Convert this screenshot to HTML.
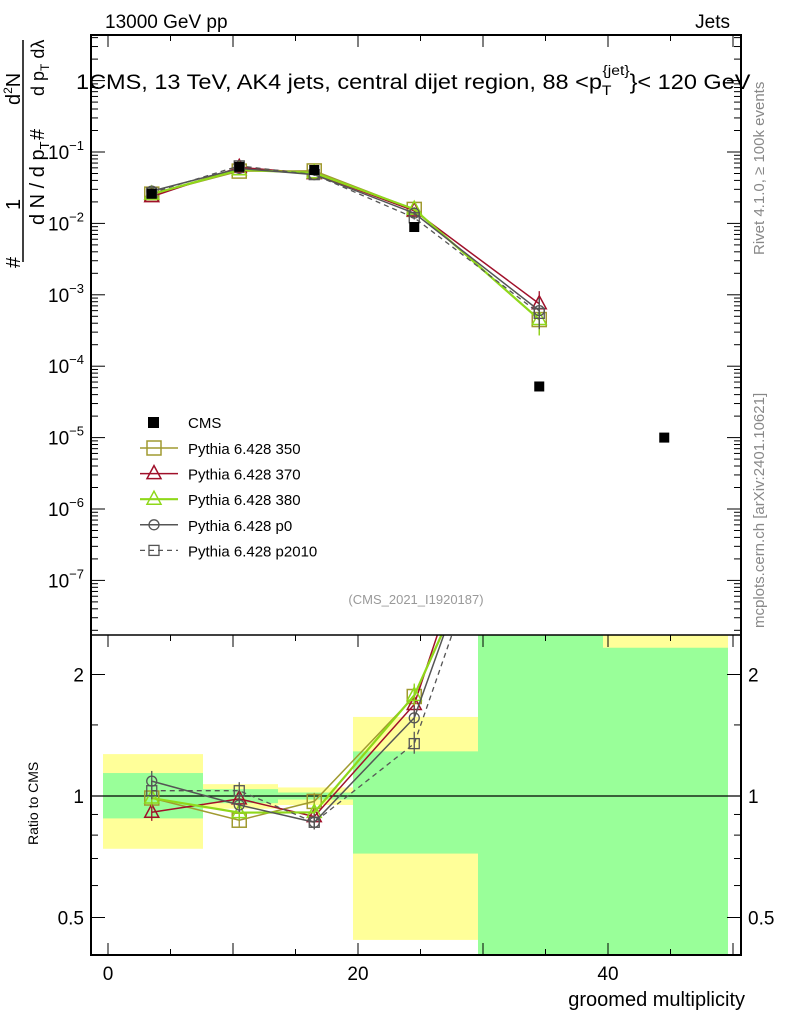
<!DOCTYPE html>
<html><head><meta charset="utf-8"><style>
body{margin:0;background:#fff}
svg{font-family:"Liberation Sans",sans-serif}
</style></head><body>
<svg id="c" width="786" height="1024" viewBox="0 0 786 1024">
<text x="105" y="28" font-size="19">13000 GeV pp</text>
<text x="730" y="28" font-size="19" text-anchor="end">Jets</text>
<text transform="translate(76,89) scale(1.12,1)" font-size="21">1CMS, 13 TeV, AK4 jets, central dijet region, 88 &lt;p<tspan font-size="14" dy="6">T</tspan><tspan font-size="14" dy="-20" dx="-8">{jet}</tspan><tspan dy="14">}&lt; 120 GeV</tspan></text>
<text x="416" y="604" font-size="13" fill="#999" text-anchor="middle">(CMS_2021_I1920187)</text>
<text transform="translate(764,255) rotate(-90)" font-size="15" fill="#888">Rivet 4.1.0, ≥ 100k events</text>
<text transform="translate(764,628) rotate(-90)" font-size="15" fill="#888">mcplots.cern.ch [arXiv:2401.10621]</text>
<g font-size="20">
<text transform="translate(20,105) rotate(-90)">d<tspan font-size="12" dy="-8">2</tspan><tspan dy="8">N</tspan></text>
<text transform="translate(20,210) rotate(-90)">1</text>
<text transform="translate(20,268) rotate(-90)">#</text>
<line x1="23" y1="40" x2="23" y2="262" stroke="#000" stroke-width="1.5"/>
<text transform="translate(44,96) rotate(-90)" font-size="18">d p<tspan font-size="12" dy="5">T</tspan><tspan dy="-5"> dλ</tspan></text>
<text transform="translate(44,140) rotate(-90)">#</text>
<text transform="translate(44,225) rotate(-90)">d N / d p<tspan font-size="13" dy="5">T</tspan></text>
</g>
<text transform="translate(38,845) rotate(-90)" font-size="14">Ratio to CMS</text>
<text x="745" y="1006" font-size="20" text-anchor="end">groomed multiplicity</text>
<g id="g"></g>
</svg>
<script>
const cmsX=[3.5,10.5,16.5,24.5,34.5,44.5];
const cmsY=[0.026,0.062,0.056,0.0089,5.2e-5,1e-5];
const binEdges=[-0.4,7.6,13.6,19.6,29.6,39.6,49.6];
const greenHi=[1.14,1.04,1.02,1.29,3,2.33];
const greenLo=[0.88,0.96,0.98,0.72,0.3,0.3];
const yellowHi=[1.27,1.07,1.05,1.57,3,3];
const yellowLo=[0.74,0.93,0.95,0.44,0.3,0.3];
const mcX=[3.5,10.5,16.5,24.5,34.5];
const s350=[0.0257,0.054,0.0543,0.0157,4.5e-4];
const s370=[0.0237,0.061,0.0498,0.0150,7.5e-4];
const s380=[0.0257,0.0564,0.051,0.0158,4.5e-4];
const sp0=[0.0283,0.0589,0.0482,0.0139,6.0e-4];
const sp2010=[0.0268,0.0639,0.0482,0.0120,5.5e-4];
const relErr=[0.06,0.05,0.05,0.07,0.5];
const xTicks=[0,20,40];
const ratioTicks=[0.5,1,2];
const NS='http://www.w3.org/2000/svg';
const g=document.getElementById('g');
const L=91,R=741,T=35,M=635,B=955;
const X=v=>108+(v)*12.5;
const Y=v=>152-(Math.log10(v)+1)*71.4;
const RY=v=>796-Math.log2(v)*121.5;
function mk(t,a,p){const e=document.createElementNS(NS,t);for(const k in a)e.setAttribute(k,a[k]);(p||g).appendChild(e);return e;}
mk('clipPath',{id:'ct'});mk('rect',{x:L,y:T,width:R-L,height:M-T},document.getElementById('ct'));
mk('clipPath',{id:'cr'});mk('rect',{x:L,y:M,width:R-L,height:B-M},document.getElementById('cr'));
const bands=mk('g',{'clip-path':'url(#cr)'});


for(let i=0;i<6;i++){
 const x0=X(binEdges[i]),x1=X(binEdges[i+1]);
 const y=mk('rect',{x:x0,y:RY(yellowHi[i]),width:x1-x0,height:RY(yellowLo[i])-RY(yellowHi[i]),fill:'#ffff99'},bands);
 
 
 const gr=mk('rect',{x:x0,y:RY(greenHi[i]),width:x1-x0,height:RY(greenLo[i])-RY(greenHi[i]),fill:'#99ff99'},bands);
 
 
}
mk('line',{x1:L,x2:R,y1:RY(1),y2:RY(1),stroke:'#000','stroke-width':1.2});
const series=[
 {n:'Pythia 6.428 350',d:s350,c:'#a09a30',m:'sq',w:1.5,dash:''},
 {n:'Pythia 6.428 370',d:s370,c:'#a0102a',m:'tri',w:1.5,dash:''},
 {n:'Pythia 6.428 380',d:s380,c:'#8fd81a',m:'tri',w:2.2,dash:''},
 {n:'Pythia 6.428 p0',d:sp0,c:'#555555',m:'circ',w:1.5,dash:''},
 {n:'Pythia 6.428 p2010',d:sp2010,c:'#555555',m:'sqs',w:1.3,dash:'5,4'}];
function marker(p,m,x,y,c){
 if(m==='sq')mk('rect',{x:x-7,y:y-7,width:14,height:14,fill:'none',stroke:c,'stroke-width':1.5},p);
 else if(m==='sqs')mk('rect',{x:x-5,y:y-5,width:10,height:10,fill:'none',stroke:c,'stroke-width':1.3},p);
 else if(m==='tri')mk('path',{d:`M${x},${y-8}L${x+7},${y+5}L${x-7},${y+5}Z`,fill:'none',stroke:c,'stroke-width':1.5},p);
 else mk('circle',{cx:x,cy:y,r:5,fill:'none',stroke:c,'stroke-width':1.3},p);
}
series.forEach(s=>{
 ['t','r'].forEach(pn=>{
  const p=mk('g',{'clip-path':pn==='t'?'url(#ct)':'url(#cr)'});
  
  
  const f=(v,i)=>pn==='t'?Y(v):RY(v/cmsY[i]);
  mk('polyline',{points:s.d.map((v,i)=>X(mcX[i])+','+f(v,i)).join(' '),fill:'none',stroke:s.c,'stroke-width':s.w,'stroke-dasharray':s.dash},p);
  s.d.forEach((v,i)=>{const x=X(mcX[i]);const e=relErr[i];
   mk('line',{x1:x,x2:x,y1:f(v*(1+e),i),y2:f(v*(1-e*0.8),i),stroke:s.c,'stroke-width':1.3},p);
   marker(p,s.m,x,f(v,i),s.c);});
 });
});
const cm=mk('g',{'clip-path':'url(#ct)'});


cmsX.forEach((x,i)=>{const r=mk('rect',{x:X(x)-5,y:Y(cmsY[i])-5,width:10,height:10,fill:'#000'},cm);
 
 });
mk('rect',{x:L,y:T,width:R-L,height:B-T,fill:'none',stroke:'#000','stroke-width':2});
mk('line',{x1:L,x2:R,y1:M,y2:M,stroke:'#000','stroke-width':1.5});
for(let v=0;v<=50;v+=5){const big=v%10===0;const x=X(v);
 [T,M].forEach(y0=>mk('line',{x1:x,x2:x,y1:y0,y2:y0+(big?12:6),stroke:'#000'}));
 mk('line',{x1:x,x2:x,y1:B,y2:B-(big?12:6),stroke:'#000'});}
xTicks.forEach(v=>{const t=mk('text',{x:X(v),y:980,'font-size':19,'text-anchor':'middle'});t.textContent=v;
 
 });
for(let e=-8;e<=0;e++){for(let k=1;k<10;k++){const v=k*Math.pow(10,e);const y=Y(v);if(y<T||y>M)continue;
 const w=k===1?14:7;mk('line',{x1:L,x2:L+w,y1:y,y2:y,stroke:'#000'});mk('line',{x1:R,x2:R-w,y1:y,y2:y,stroke:'#000'});}}
for(let e=-7;e<=-1;e++){const t=mk('text',{x:84,y:Y(Math.pow(10,e))+7,'font-size':19,'text-anchor':'end'});
 t.innerHTML='10<tspan font-size="13" dy="-9">'+'\u2212'+(-e)+'</tspan>';
 
 }
[0.5,0.6,0.7,0.8,0.9,1,1.5,2].forEach(v=>{const y=RY(v);const w=(v===0.5||v===1||v===2)?14:7;
 mk('line',{x1:L,x2:L+w,y1:y,y2:y,stroke:'#000'});mk('line',{x1:R,x2:R-w,y1:y,y2:y,stroke:'#000'});});
ratioTicks.forEach(v=>{[[84,'end'],[748,'start']].forEach(([x,a])=>{const t=mk('text',{x:x,y:RY(v)+7,'font-size':19,'text-anchor':a});t.textContent=v;
 
 });});
const lg=mk('g',{});


mk('rect',{x:148,y:417,width:11,height:11,fill:'#000'},lg);
let t0=mk('text',{x:188,y:428,'font-size':15},lg);t0.textContent='CMS';
series.forEach((s,i)=>{const y=448+i*25.6;
 mk('line',{x1:140,x2:178,y1:y,y2:y,stroke:s.c,'stroke-width':s.w,'stroke-dasharray':s.dash},lg);
 marker(lg,s.m,154,y,s.c);
 const t=mk('text',{x:188,y:y+6,'font-size':15},lg);t.textContent=s.n;
 
 });
</script>
</body></html>
